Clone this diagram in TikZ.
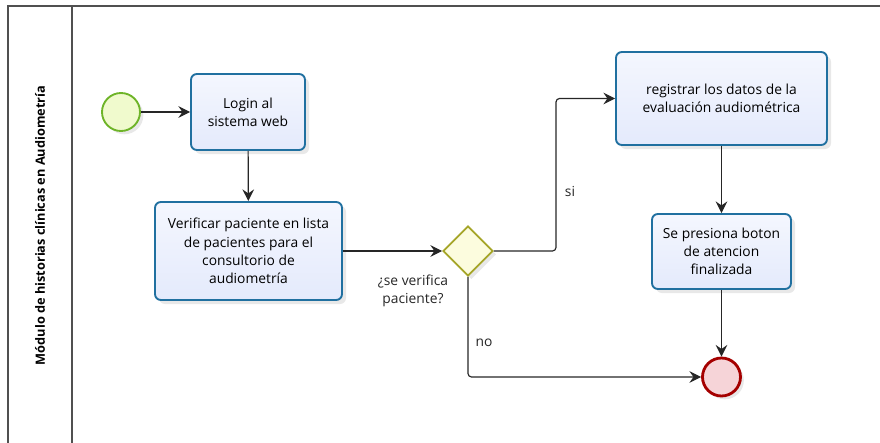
\documentclass[tikz,border=0pt]{standalone}
\usepackage{fontspec}
\setmainfont{Open Sans}
\usetikzlibrary{shapes.geometric,shadows,arrows.meta}

\definecolor{taskblue}{RGB}{32,112,160}
\definecolor{taskfill}{RGB}{228,234,252}
\definecolor{startgreen}{RGB}{110,180,40}
\definecolor{startfill}{RGB}{240,250,205}
\definecolor{gwolive}{RGB}{165,165,40}
\definecolor{gwfill}{RGB}{252,252,222}
\definecolor{endred}{RGB}{165,0,0}
\definecolor{endfill}{RGB}{246,212,216}
\definecolor{lanegray}{RGB}{80,80,80}

\begin{document}
\begin{tikzpicture}[x=0.3mm, y=-0.3mm, >={Stealth[length=10pt, width=10pt, inset=3.5pt]}]
  \tikzstyle{task}=[rectangle, rounded corners=5pt, draw=taskblue, line width=1.6pt, top color=white!60!taskfill, bottom color=taskfill, align=center, font=\fontsize{11.8}{15.5}\selectfont, inner sep=2pt, drop shadow={shadow xshift=1.2mm, shadow yshift=-1.2mm, opacity=0.18}]
  \tikzstyle{startev}=[circle, draw=startgreen, line width=1.6pt, fill=startfill, minimum size=11.4mm, inner sep=0pt, drop shadow={shadow xshift=1mm, shadow yshift=-1mm, opacity=0.18}]
  \tikzstyle{endev}=[circle, draw=endred, line width=2.4pt, fill=endfill, minimum size=11.4mm, inner sep=0pt, drop shadow={shadow xshift=1mm, shadow yshift=-1mm, opacity=0.18}]
  \tikzstyle{gateway}=[diamond, aspect=1, draw=gwolive, line width=1.6pt, fill=gwfill, minimum size=15mm, inner sep=0pt, drop shadow={shadow xshift=1mm, shadow yshift=-1mm, opacity=0.18}]
  \tikzstyle{flow}=[draw=black!85, line width=1pt, ->, rounded corners=3pt]
  \tikzstyle{lbl}=[font=\fontsize{11.8}{15.5}\selectfont, align=center, text=black!85]

  \useasboundingbox (0,0) rectangle (880,443);

  % pool and lane
  \draw[lanegray, line width=1.3pt] (880,6) -- (8,6) -- (8,443);
  \draw[lanegray, line width=1.3pt] (72,6) -- (72,443);
  \node[rotate=90, font=\fontsize{10.9}{13}\selectfont\bfseries] (lane) at (40,225.5) {Módulo de historias clínicas en Audiometría};

  \node[startev] (s1) at (121,112) {};
  \node[task, minimum width=34.2mm, minimum height=22.8mm] (t1) at (248,112) {Login al\\sistema web};
  \node[task, minimum width=56.1mm, minimum height=29.4mm] (t2) at (248.5,251) {Verificar paciente en lista\\de pacientes para el\\consultorio de\\audiometría};
  \node[gateway] (g1) at (468,251) {};
  \node[lbl] (q1) at (413,291) {¿se verifica\\paciente?};
  \node[task, minimum width=63.3mm, minimum height=27.9mm] (t3) at (721.5,98.5) {registrar los datos de la\\evaluación audiométrica};
  \node[task, minimum width=41.7mm, minimum height=22.5mm] (t4) at (721.5,251.5) {Se presiona boton\\de atencion\\finalizada};
  \node[endev] (e1) at (721.5,377) {};

  \coordinate (c1) at (556,98.5);

  \path[flow] (s1) -- (t1);
  \path[flow] (t1) -- (t2);
  \path[flow] (t2) -- (g1);
  \path[flow] (g1.east) -| (c1) -- (t3.west);
  \path[flow] (t3) -- (t4);
  \path[flow] (t4) -- (e1);
  \path[flow] (g1.south) |- (e1.west);

  \node[lbl] (si) at (570,191) {si};
  \node[lbl] (no) at (484,343) {no};

\end{tikzpicture}
\end{document}
